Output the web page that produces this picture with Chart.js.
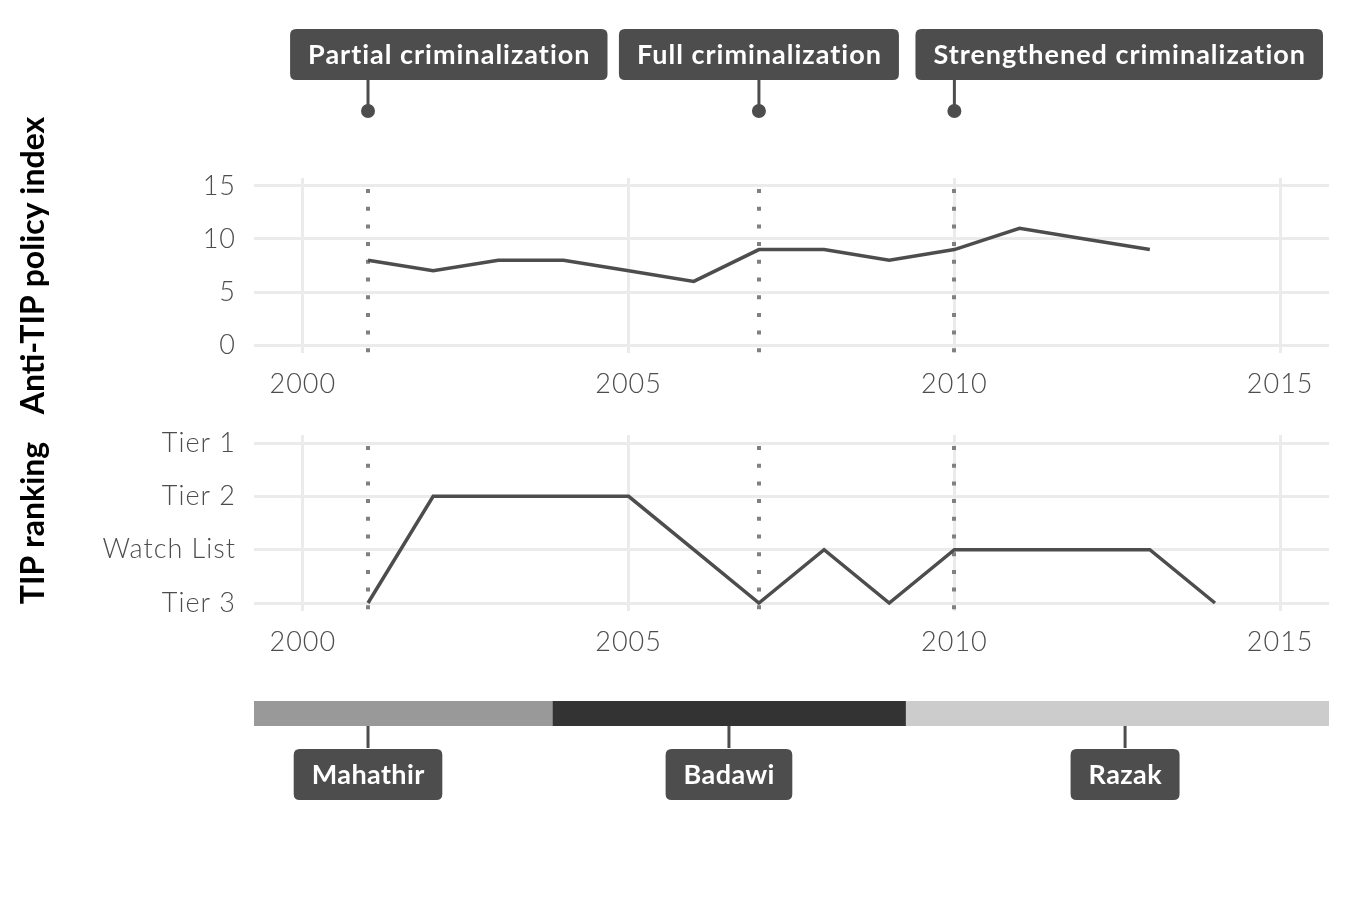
<!DOCTYPE html>
<html>
<head>
<meta charset="utf-8">
<script src="https://cdn.jsdelivr.net/npm/chart.js@4"></script>
<style>
  html, body { margin:0; padding:0; background:#fff; }
  #wrap { position:relative; width:1350px; height:900px; }
  .box { position:absolute; left:0; width:1350px; }
</style>
</head>
<body>
<div id="wrap">
  <div class="box" style="top:0;height:420px"><canvas id="c1"></canvas></div>
  <div class="box" style="top:395px;height:285px"><canvas id="c2"></canvas></div>
  <div class="box" style="top:680px;height:220px"><canvas id="c3"></canvas></div>
</div>
<script>
// ---------- data ----------
const policyYears = [2001,2002,2003,2004,2005,2006,2007,2008,2009,2010,2011,2012,2013];
const policyIndex = [8,7,8,8,7,6,9,9,8,9,11,10,9];

const rankYears = [2001,2002,2003,2004,2005,2006,2007,2008,2009,2010,2011,2012,2013,2014];
const rankings  = ['Tier 3','Tier 2','Tier 2','Tier 2','Tier 2','Watch List','Tier 3','Watch List','Tier 3','Watch List','Watch List','Watch List','Watch List','Tier 3'];
const tierLevels = ['Tier 3','Watch List','Tier 2','Tier 1'];   // bottom to top

const xTicks = [2000, 2005, 2010, 2015];
const policyTicks = [0, 5, 10, 15];

const eventYears  = [2001, 2007, 2010];
const eventLabels = ['Partial criminalization', 'Full criminalization', 'Strengthened criminalization'];
const eventLabelYears = [2002.24, 2007.0, 2012.53];

const leaders      = ['Mahathir', 'Badawi', 'Razak'];
const leaderStart  = [1981.0, 2003.83, 2009.25];
const leaderEnd    = [2003.83, 2009.25, 2018.35];
const leaderColors = ['#999999', '#333333', '#cccccc'];
const leaderLabelYears = [2001.0, 2006.54, 2012.62];

const xMin = 1999.25, xMax = 2015.75;

// ---------- styles ----------
const TICK_FONT = { family: 'Lato', size: 27, weight: '300' };
const TICK_COLOR = '#4d4d4d';
const GRID = '#ebebeb';
const LINE = '#4d4d4d';
const LABEL_BG = '#4d4d4d';

function roundRect(ctx, x, y, w, h, r) {
  ctx.beginPath();
  ctx.moveTo(x + r, y);
  ctx.lineTo(x + w - r, y);
  ctx.quadraticCurveTo(x + w, y, x + w, y + r);
  ctx.lineTo(x + w, y + h - r);
  ctx.quadraticCurveTo(x + w, y + h, x + w - r, y + h);
  ctx.lineTo(x + r, y + h);
  ctx.quadraticCurveTo(x, y + h, x, y + h - r);
  ctx.lineTo(x, y + r);
  ctx.quadraticCurveTo(x, y, x + r, y);
  ctx.closePath();
}

function labelBox(ctx, text, cx, top, h, spacing) {
  ctx.save();
  ctx.font = 'bold 27px Lato';
  ctx.letterSpacing = spacing + 'px';
  const tw = ctx.measureText(text).width - spacing;
  const w = tw + 36;
  ctx.fillStyle = LABEL_BG;
  roundRect(ctx, cx - w / 2, top, w, h, 6);
  ctx.fill();
  ctx.fillStyle = '#ffffff';
  ctx.textAlign = 'left';
  ctx.textBaseline = 'middle';
  ctx.fillText(text, cx - tw / 2, top + h / 2 + 1);
  ctx.restore();
}

const spacingPlugin = {
  id: 'spacingPlugin',
  beforeDraw(chart) { chart.ctx.letterSpacing = '1px'; },
  afterDraw(chart) { chart.ctx.letterSpacing = '0px'; }
};

const dottedLines = {
  id: 'dottedLines',
  beforeDatasetsDraw(chart) {
    const ctx = chart.ctx, xs = chart.scales.x, a = chart.chartArea;
    ctx.save();
    ctx.strokeStyle = '#808080';
    ctx.lineWidth = 4;
    ctx.setLineDash([4, 13.7]);
    eventYears.forEach(yr => {
      const px = Math.round(xs.getPixelForValue(yr));
      ctx.beginPath();
      ctx.moveTo(px, a.top + 11);
      ctx.lineTo(px, a.bottom + 2);
      ctx.stroke();
    });
    ctx.restore();
  }
};

function yTitle(text) {
  return {
    id: 'yTitle_' + text.length,
    afterDraw(chart) {
      const ctx = chart.ctx, a = chart.chartArea;
      ctx.save();
      ctx.letterSpacing = '0px';
      ctx.translate(34, (a.top + a.bottom) / 2);
      ctx.rotate(-Math.PI / 2);
      ctx.font = 'bold 32px Lato';
      ctx.fillStyle = '#000000';
      ctx.textAlign = 'center';
      ctx.textBaseline = 'middle';
      ctx.fillText(text, 0, 0);
      ctx.restore();
    }
  };
}

const eventAnnotations = {
  id: 'eventAnnotations',
  afterDraw(chart) {
    const ctx = chart.ctx, xs = chart.scales.x;
    ctx.save();
    eventYears.forEach((yr, i) => {
      const px = xs.getPixelForValue(yr);
      ctx.strokeStyle = LABEL_BG;
      ctx.lineWidth = 3;
      ctx.beginPath();
      ctx.moveTo(px, 80);
      ctx.lineTo(px, 111);
      ctx.stroke();
      ctx.fillStyle = LABEL_BG;
      ctx.beginPath();
      ctx.arc(px, 111, 7, 0, Math.PI * 2);
      ctx.fill();
      labelBox(ctx, eventLabels[i], xs.getPixelForValue(eventLabelYears[i]), 29, 51, 1);
    });
    ctx.restore();
  }
};

const leaderAnnotations = {
  id: 'leaderAnnotations',
  afterDraw(chart) {
    const ctx = chart.ctx, xs = chart.scales.x, a = chart.chartArea;
    ctx.save();
    leaders.forEach((name, i) => {
      const px = xs.getPixelForValue(leaderLabelYears[i]);
      ctx.strokeStyle = LABEL_BG;
      ctx.lineWidth = 3;
      ctx.beginPath();
      ctx.moveTo(px, a.bottom);
      ctx.lineTo(px, a.bottom + 22);
      ctx.stroke();
      labelBox(ctx, name, px, a.bottom + 23, 51, 0.4);
    });
    ctx.restore();
  }
};

function xScale(height) {
  return {
    type: 'linear', min: xMin, max: xMax,
    afterBuildTicks(s) { s.ticks = xTicks.map(v => ({ value: v })); },
    afterFit(s) { s.height = height; },
    grid: { color: GRID, lineWidth: 3, drawTicks: false },
    border: { display: false },
    ticks: { font: TICK_FONT, color: TICK_COLOR, padding: 15, maxRotation: 0,
             callback: v => String(v) }
  };
}

Chart.defaults.animation = false;
Chart.defaults.font.family = 'Lato';

// ---------- top panel ----------
new Chart(document.getElementById('c1'), {
  type: 'line',
  data: { datasets: [{
    data: policyYears.map((yr, i) => ({ x: yr, y: policyIndex[i] })),
    borderColor: LINE, borderWidth: 3.5, pointRadius: 0, tension: 0
  }]},
  options: {
    responsive: true, maintainAspectRatio: false,
    layout: { padding: { top: 178, right: 21, left: 0, bottom: 0 } },
    plugins: { legend: { display: false }, tooltip: { enabled: false } },
    scales: {
      x: xScale(67),
      y: {
        min: -0.75, max: 15.75,
        afterBuildTicks(s) { s.ticks = policyTicks.map(v => ({ value: v })); },
        afterFit(s) { s.width = 254; },
        grid: { color: GRID, lineWidth: 3, drawTicks: false },
        border: { display: false },
        ticks: { font: TICK_FONT, color: TICK_COLOR, padding: 18 }
      }
    }
  },
  plugins: [spacingPlugin, dottedLines, yTitle('Anti-TIP policy index'), eventAnnotations]
});

// ---------- bottom panel ----------
new Chart(document.getElementById('c2'), {
  type: 'line',
  data: { datasets: [{
    data: rankYears.map((yr, i) => ({ x: yr, y: tierLevels.indexOf(rankings[i]) + 1 })),
    borderColor: LINE, borderWidth: 3.5, pointRadius: 0, tension: 0
  }]},
  options: {
    responsive: true, maintainAspectRatio: false,
    layout: { padding: { top: 40, right: 21, left: 0, bottom: 0 } },
    plugins: { legend: { display: false }, tooltip: { enabled: false } },
    scales: {
      x: xScale(69),
      y: {
        min: 0.85, max: 4.15,
        afterBuildTicks(s) { s.ticks = tierLevels.map((t, i) => ({ value: i + 1 })); },
        afterFit(s) { s.width = 254; },
        grid: { color: GRID, lineWidth: 3, drawTicks: false },
        border: { display: false },
        ticks: { font: TICK_FONT, color: TICK_COLOR, padding: 18,
                 callback: v => tierLevels[Math.round(v) - 1] }
      }
    }
  },
  plugins: [spacingPlugin, dottedLines, yTitle('TIP ranking')]
});

// ---------- leader bar ----------
new Chart(document.getElementById('c3'), {
  type: 'bar',
  data: {
    labels: ['Leader'],
    datasets: leaders.map((name, i) => ({
      label: name,
      data: [[leaderStart[i], leaderEnd[i]]],
      backgroundColor: leaderColors[i],
      borderWidth: 0, grouped: false,
      barPercentage: 1, categoryPercentage: 1
    }))
  },
  options: {
    indexAxis: 'y',
    responsive: true, maintainAspectRatio: false,
    layout: { padding: { top: 21, right: 21, left: 254, bottom: 174 } },
    plugins: { legend: { display: false }, tooltip: { enabled: false } },
    scales: {
      x: { type: 'linear', min: xMin, max: xMax, display: false },
      y: { display: false }
    }
  },
  plugins: [leaderAnnotations]
});
</script>
</body>
</html>
